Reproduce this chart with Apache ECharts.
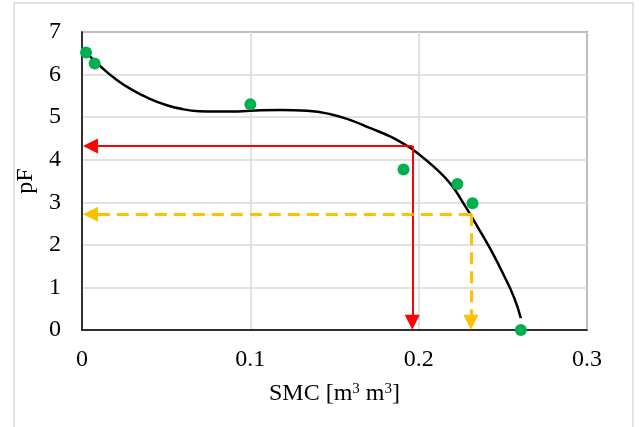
<!DOCTYPE html>
<html>
<head>
<meta charset="utf-8">
<script src="https://cdn.jsdelivr.net/npm/echarts@6/dist/echarts.min.js"></script>
<style>
    html, body { margin: 0; padding: 0; background: #fff; }
    #chart { width: 639px; height: 427px; }
</style>
</head>
<body>
<div id="chart"></div>
<script>
// measured points (SMC, pF)
var obsSMC = [0.0024, 0.0075, 0.100, 0.191, 0.223, 0.232, 0.2607];
var obsPF = [6.52, 6.26, 5.30, 3.77, 3.43, 2.98, 0.0];

// fitted curve
var fitSMC = [0.0030, 0.0119, 0.0198, 0.0298, 0.0397, 0.0496, 0.0595, 0.0695, 0.0793, 0.0893, 0.1000, 0.1179, 0.1338, 0.1476,
    0.1595, 0.1714, 0.1833, 0.1933, 0.1992, 0.2091, 0.2190, 0.2270, 0.2349, 0.2429, 0.2508, 0.2567, 0.2607];
var fitPF = [6.50, 6.16, 5.90, 5.64, 5.44, 5.29, 5.19, 5.14, 5.13, 5.13, 5.15, 5.17, 5.15, 5.07,
    4.93, 4.74, 4.54, 4.32, 4.16, 3.83, 3.43, 2.95, 2.43, 1.88, 1.27, 0.76, 0.28];

// read-off guides: [SMC, pF] of the corner
var redPoint = [0.1962, 4.32];
var yellowPoint = [0.231, 2.72];
var arrowEndSMC = 0.005;
var arrowEndPF = 0.18;

var xTicks = [0, 0.1, 0.2, 0.3];
var yTicks = [0, 1, 2, 3, 4, 5, 6, 7];

var fontName = '"Liberation Serif", "Times New Roman", serif';

function pairs(xs, ys) {
    var out = [];
    for (var i = 0; i < xs.length; i++) {
        out.push([xs[i], ys[i]]);
    }
    return out;
}

function guide(pt, color, type, width) {
    return {
        silent: true,
        symbol: ['none', 'triangle'],
        symbolSize: [15, 15],
        label: { show: false },
        lineStyle: { color: color, type: type, width: width },
        data: [
            [{ coord: [pt[0], pt[1]] }, { coord: [arrowEndSMC, pt[1]] }],
            [{ coord: [pt[0], pt[1]] }, { coord: [pt[0], arrowEndPF] }]
        ]
    };
}

var myChart = echarts.init(document.getElementById('chart'));
var option = {
    animation: false,
    backgroundColor: '#fff',
    textStyle: { fontFamily: fontName },
    graphic: [{
        type: 'rect',
        shape: { x: 14, y: 3, width: 619, height: 440 },
        style: { fill: 'none', stroke: '#d9d9d9', lineWidth: 1.5 },
        silent: true
    }],
    grid: {
        left: 82, top: 32, right: 52, bottom: 97,
        show: true,
        borderColor: '#404040',
        borderWidth: 1.5
    },
    xAxis: {
        type: 'value',
        min: xTicks[0],
        max: xTicks[xTicks.length - 1],
        interval: 0.1,
        name: 'SMC [m{s|3} m{s|3}]',
        nameLocation: 'middle',
        nameGap: 52,
        nameTextStyle: {
            color: '#000', fontSize: 24, fontFamily: fontName,
            rich: { s: { fontSize: 15, verticalAlign: 'top', fontFamily: fontName, color: '#000' } }
        },
        axisLine: { lineStyle: { color: '#000', width: 1.5 } },
        axisTick: { show: false },
        axisLabel: {
            color: '#000', fontSize: 24, fontFamily: fontName, margin: 18,
            formatter: function (v) { return String(Math.round(v * 10) / 10); }
        },
        splitLine: { show: true, lineStyle: { color: '#d9d9d9', width: 1.5 } }
    },
    yAxis: {
        type: 'value',
        min: yTicks[0],
        max: yTicks[yTicks.length - 1],
        interval: 1,
        name: 'pF',
        nameLocation: 'middle',
        nameGap: 36,
        nameTextStyle: { color: '#000', fontSize: 24, fontFamily: fontName },
        axisLine: { show: true, lineStyle: { color: '#000', width: 1.5 } },
        axisTick: { show: false },
        axisLabel: { color: '#000', fontSize: 24, fontFamily: fontName, margin: 21 },
        splitLine: { show: true, lineStyle: { color: '#d9d9d9', width: 1.5 } }
    },
    series: [
        {
            name: 'fit',
            type: 'line',
            data: pairs(fitSMC, fitPF),
            smooth: 0.5,
            showSymbol: false,
            symbol: 'none',
            lineStyle: { color: '#000', width: 2.5 },
            z: 3
        },
        {
            name: 'red',
            type: 'line',
            data: [],
            markLine: guide(redPoint, '#ff0000', 'solid', 2),
            z: 4
        },
        {
            name: 'yellow',
            type: 'line',
            data: [],
            markLine: guide(yellowPoint, '#ffc000', [12, 7], 3),
            z: 4
        },
        {
            name: 'obs',
            type: 'scatter',
            data: pairs(obsSMC, obsPF),
            symbolSize: 12,
            itemStyle: { color: '#00b050', opacity: 1 },
            z: 5
        }
    ]
};

myChart.setOption(option);
</script>
</body>
</html>
